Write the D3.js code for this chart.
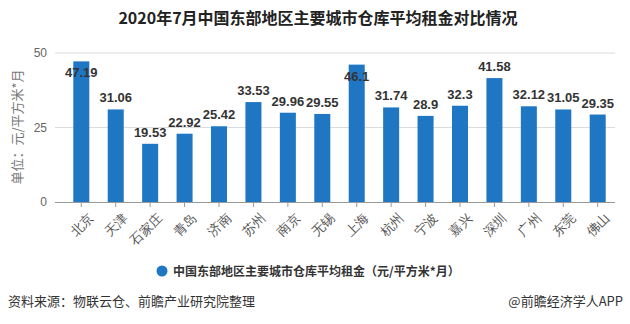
<!DOCTYPE html>
<html>
<head>
<meta charset="utf-8">
<script src="https://cdn.jsdelivr.net/npm/d3@7/dist/d3.min.js"></script>
<style>
  html, body { margin: 0; padding: 0; background: #fff; }
  svg { display: block; font-family: "Noto Sans CJK SC", "Microsoft YaHei", sans-serif; }
</style>
</head>
<body>
<svg id="chart" width="630" height="324"></svg>
<script>
// Monthly average warehouse rent, major cities of eastern China, July 2020
const cities = ["北京", "天津", "石家庄", "青岛", "济南", "苏州", "南京", "无锡",
                "上海", "杭州", "宁波", "嘉兴", "深圳", "广州", "东莞", "佛山"];
const rents = [47.19, 31.06, 19.53, 22.92, 25.42, 33.53, 29.96, 29.55,
               46.1, 31.74, 28.9, 32.3, 41.58, 32.12, 31.05, 29.35];
const valueLabels = ["47.19", "31.06", "19.53", "22.92", "25.42", "33.53", "29.96", "29.55",
                     "46.1", "31.74", "28.9", "32.3", "41.58", "32.12", "31.05", "29.35"];
const yTicks = [0, 25, 50];

const titleText = "2020年7月中国东部地区主要城市仓库平均租金对比情况";
const yAxisTitle = "单位：元/平方米*月";
const legendText = "中国东部地区主要城市仓库平均租金（元/平方米*月）";
const sourceText = "资料来源：物联云仓、前瞻产业研究院整理";
const creditText = "@前瞻经济学人APP";

const barColor = "#1f77c4";
const svg = d3.select("#chart");

const gridLeft = 55, plotRight = 615;
const x = d3.scaleBand().domain(cities).range([64, plotRight]).paddingInner(0.535).paddingOuter(0.27);
const y = d3.scaleLinear().domain([0, 50]).range([202, 53]);

// title
svg.append("text")
  .attr("x", 318).attr("y", 24)
  .attr("text-anchor", "middle")
  .attr("font-size", 16).attr("font-weight", "bold").attr("fill", "#222")
  .text(titleText);

// horizontal grid lines
svg.append("g").selectAll("line")
  .data(yTicks.filter(d => d !== 0))
  .join("line")
  .attr("x1", gridLeft).attr("x2", plotRight)
  .attr("y1", d => y(d)).attr("y2", d => y(d))
  .attr("stroke", "#dcdcdc").attr("stroke-width", 1);

// y axis labels
const yAxis = d3.axisLeft(y).tickValues(yTicks).tickSize(0).tickPadding(8);
const yg = svg.append("g").attr("transform", `translate(${gridLeft},0)`).call(yAxis);
yg.select(".domain").remove();
yg.selectAll("text").attr("font-size", 12).attr("fill", "#666")
  .attr("font-family", "Arial, 'Liberation Sans', sans-serif");

// bars
svg.append("g").selectAll("rect")
  .data(rents)
  .join("rect")
  .attr("x", (d, i) => x(cities[i]))
  .attr("width", x.bandwidth())
  .attr("y", d => y(d))
  .attr("height", d => y(0) - y(d))
  .attr("fill", barColor);

// x axis
const xAxis = d3.axisBottom(x).tickSize(5).tickPadding(3);
const xg = svg.append("g").attr("transform", `translate(0,${y(0)})`).call(xAxis);
xg.select(".domain").attr("d", `M${gridLeft},0.5H${plotRight}`).attr("stroke", "#999");
xg.selectAll(".tick line").attr("stroke", "#999");
xg.selectAll("text")
  .attr("font-size", 13).attr("fill", "#555")
  .attr("text-anchor", "end")
  .attr("dy", "0.35em")
  .attr("transform", "translate(4,8) rotate(-45)");

// value labels; the tallest bars carry their label just inside the top
svg.append("g").selectAll("text")
  .data(rents)
  .join("text")
  .attr("x", (d, i) => x(cities[i]) + x.bandwidth() / 2)
  .attr("y", d => d > 45 ? y(d) + 16 : y(d) - 7)
  .attr("text-anchor", "middle")
  .attr("font-size", 13).attr("font-weight", "bold").attr("fill", "#333")
  .attr("font-family", "'Liberation Sans', Arial, sans-serif")
  .text((d, i) => valueLabels[i]);

// y axis title
svg.append("text")
  .attr("transform", "translate(22,127) rotate(-90)")
  .attr("text-anchor", "middle")
  .attr("font-size", 13).attr("fill", "#777")
  .text(yAxisTitle);

// legend
svg.append("circle").attr("cx", 162).attr("cy", 271).attr("r", 5.5).attr("fill", barColor);
svg.append("text")
  .attr("x", 173).attr("y", 275.5)
  .attr("font-size", 12).attr("font-weight", "bold").attr("fill", "#333")
  .text(legendText);

// footer
svg.append("text")
  .attr("x", 8).attr("y", 306)
  .attr("font-size", 13).attr("fill", "#333")
  .text(sourceText);
svg.append("text")
  .attr("x", 623).attr("y", 306)
  .attr("text-anchor", "end")
  .attr("font-size", 13).attr("fill", "#333")
  .text(creditText);
</script>
</body>
</html>
